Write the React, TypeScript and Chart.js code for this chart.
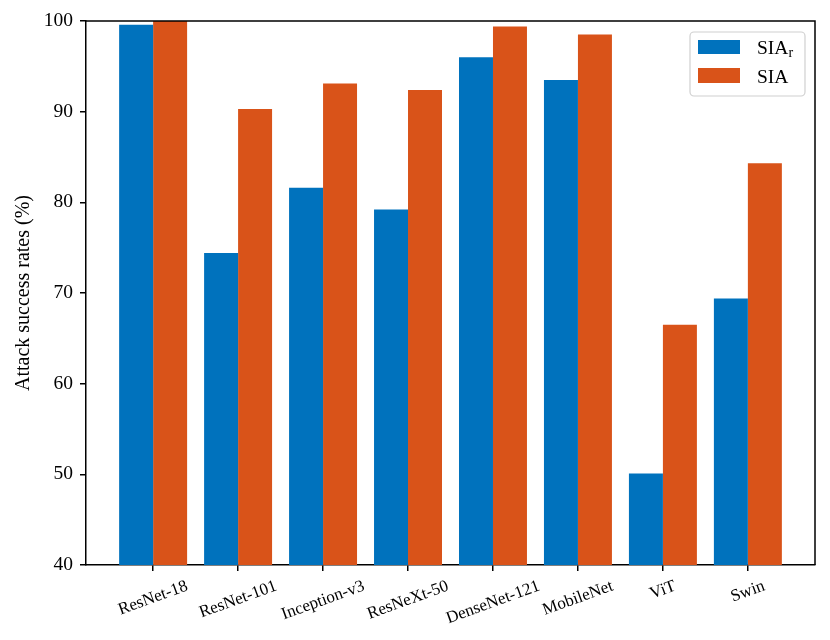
import React, { useEffect, useRef } from 'react';
import { Chart, registerables } from 'chart.js';

Chart.register(...registerables);

// Data
const models = ['ResNet-18', 'ResNet-101', 'Inception-v3', 'ResNeXt-50', 'DenseNet-121', 'MobileNet', 'ViT', 'Swin'];
const siaR = [99.6, 74.4, 81.6, 79.2, 96.0, 93.5, 50.1, 69.4];
const sia = [100.0, 90.3, 93.1, 92.4, 99.4, 98.5, 66.5, 84.3];
const yTicks = [40, 50, 60, 70, 80, 90, 100];

const BLUE = '#0072BD';
const ORANGE = '#D95319';
const SERIF = '"Liberation Serif", "Times New Roman", serif';

// top/right spines, rotated x labels and the legend box
const decorations = {
  id: 'decorations',
  afterDraw(chart: any) {
    const { ctx, chartArea: a, scales } = chart;
    ctx.save();

    ctx.strokeStyle = '#000';
    ctx.lineWidth = 1.5;
    ctx.beginPath();
    ctx.moveTo(a.left, a.top);
    ctx.lineTo(a.right, a.top);
    ctx.lineTo(a.right, a.bottom);
    ctx.stroke();

    // x tick labels, rotated 20deg and centred on the tick
    const rot = (20 * Math.PI) / 180;
    ctx.font = `17px ${SERIF}`;
    ctx.fillStyle = '#000';
    ctx.textAlign = 'center';
    ctx.textBaseline = 'middle';
    models.forEach((m, i) => {
      const px = scales.x.getPixelForValue(i);
      const w = ctx.measureText(m).width;
      const bh = w * Math.sin(rot) + 12 * Math.cos(rot);
      const cy = a.bottom + 15 + bh / 2;
      ctx.save();
      ctx.translate(px, cy);
      ctx.rotate(-rot);
      ctx.fillText(m, 0, 0);
      ctx.restore();
    });

    // legend
    const bx = a.right - 125;
    const by = a.top + 11;
    ctx.beginPath();
    ctx.roundRect(bx, by, 115, 64, 4);
    ctx.fillStyle = 'rgba(255,255,255,0.8)';
    ctx.fill();
    ctx.strokeStyle = '#d0d0d0';
    ctx.lineWidth = 1.2;
    ctx.stroke();

    ctx.fillStyle = BLUE;
    ctx.fillRect(bx + 8, by + 8, 42, 14);
    ctx.fillStyle = ORANGE;
    ctx.fillRect(bx + 8, by + 36, 42, 15);

    ctx.fillStyle = '#000';
    ctx.textAlign = 'left';
    ctx.textBaseline = 'alphabetic';
    ctx.font = `19.5px ${SERIF}`;
    ctx.fillText('SIA', bx + 67, by + 22);
    const sw = ctx.measureText('SIA').width;
    ctx.font = `14px ${SERIF}`;
    ctx.fillText('r', bx + 67 + sw, by + 25);
    ctx.font = `19.5px ${SERIF}`;
    ctx.fillText('SIA', bx + 67, by + 51);

    ctx.restore();
  },
};

const App: React.FC = () => {
  const canvasRef = useRef<HTMLCanvasElement | null>(null);
  const chartRef = useRef<Chart | null>(null);

  useEffect(() => {
    if (!canvasRef.current) return;
    if (chartRef.current) chartRef.current.destroy();

    chartRef.current = new Chart(canvasRef.current, {
      type: 'bar',
      data: {
        datasets: [
          {
            label: 'SIA_r',
            data: siaR.map((v, i) => ({ x: i, y: v })),
            backgroundColor: BLUE,
            borderWidth: 0,
          },
          {
            label: 'SIA',
            data: sia.map((v, i) => ({ x: i, y: v })),
            backgroundColor: ORANGE,
            borderWidth: 0,
          },
        ],
      },
      options: {
        animation: false,
        responsive: true,
        maintainAspectRatio: false,
        layout: { padding: { top: 21, right: 15, bottom: 75, left: 0 } },
        datasets: { bar: { categoryPercentage: 0.8, barPercentage: 1.0 } },
        plugins: { legend: { display: false }, tooltip: { enabled: false } },
        scales: {
          x: {
            type: 'linear',
            min: -0.79,
            max: 7.79,
            offset: false,
            grid: {
              offset: false,
              drawOnChartArea: false,
              drawTicks: true,
              tickLength: 6,
              color: '#000',
              lineWidth: 1.5,
            },
            border: { display: true, color: '#000', width: 1.5 },
            ticks: { display: false },
            afterBuildTicks: (s: any) => {
              s.ticks = models.map((_, i) => ({ value: i }));
            },
            afterFit: (s: any) => {
              s.height = 0;
            },
          },
          y: {
            min: 40,
            max: 100,
            grid: {
              drawOnChartArea: false,
              drawTicks: true,
              tickLength: 6,
              color: '#000',
              lineWidth: 1.5,
            },
            border: { display: true, color: '#000', width: 1.5 },
            ticks: {
              color: '#000',
              padding: 7,
              font: { family: SERIF, size: 19.5 },
            },
            afterBuildTicks: (s: any) => {
              s.ticks = yTicks.map((v) => ({ value: v }));
            },
            afterFit: (s: any) => {
              s.width = 86;
            },
            title: {
              display: true,
              text: 'Attack success rates (%)',
              color: '#000',
              font: { family: SERIF, size: 20 },
              padding: { top: 12, bottom: 0 },
            },
          },
        },
      },
      plugins: [decorations],
    } as any);

    return () => {
      if (chartRef.current) {
        chartRef.current.destroy();
        chartRef.current = null;
      }
    };
  }, []);

  return (
    <div style={{ position: 'absolute', left: 0, top: 0, width: 830, height: 640, background: '#fff' }}>
      <canvas ref={canvasRef}></canvas>
    </div>
  );
};

export default App;
